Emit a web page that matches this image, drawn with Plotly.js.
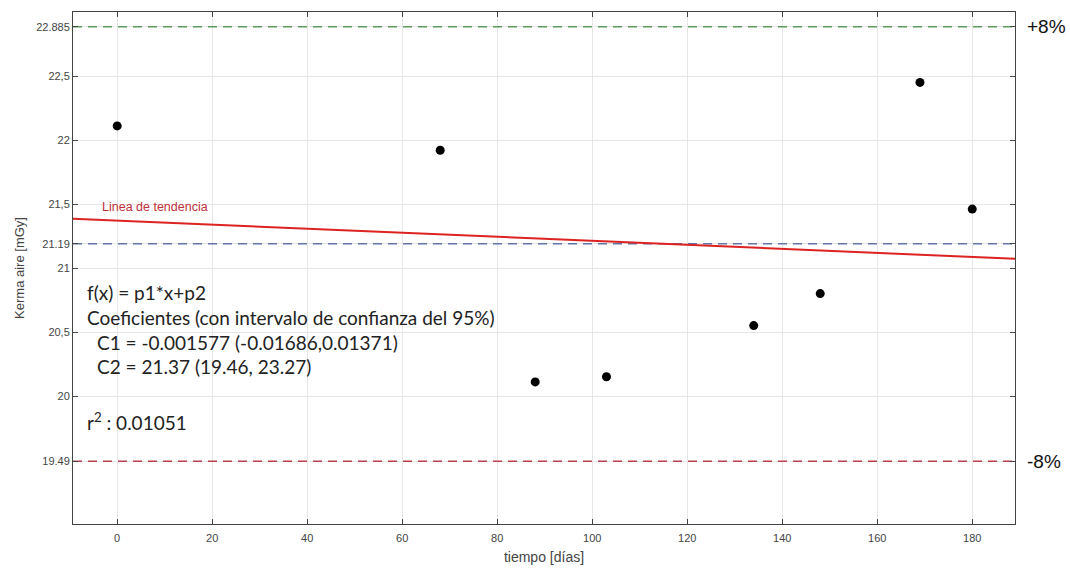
<!DOCTYPE html>
<html>
<head>
<meta charset="utf-8">
<script src="https://cdn.plot.ly/plotly-3.0.1.min.js"></script>
<style>html,body{margin:0;padding:0;background:#fff;}#chart{width:1070px;height:569px;}</style>
</head>
<body>
<div id="chart"></div>
<script>
// Measured points
const dias = [0, 68, 88, 103, 134, 148, 169, 180];
const kerma = [22.11, 21.92, 20.11, 20.15, 20.55, 20.80, 22.45, 21.46];

// Trend line (endpoints at plot edges)
const trendX = [-9.3, 189];
const trendY = [21.385, 21.072];

// Reference levels
const refX = [-9.3, 189];
const upperLimit = 22.885;
const nominal = 21.19;
const lowerLimit = 19.49;

// Axis ticks
const xTicks = [0, 20, 40, 60, 80, 100, 120, 140, 160, 180];
const yTickVals = [19.49, 20, 20.5, 21, 21.19, 21.5, 22, 22.5, 22.885];
const yTickText = ['19.49', '20', '20,5', '21', '21.19', '21,5', '22', '22,5', '22.885'];

// Fit text
const fitLines = [
  'f(x) = p1*x+p2',
  'Coeficientes (con intervalo de confianza del 95%)',
  'C1 = -0.001577 (-0.01686,0.01371)',
  'C2 = 21.37 (19.46, 23.27)'
];
const r2Text = 'r<sup>2</sup> : 0.01051';

const traces = [
  {x: refX, y: [upperLimit, upperLimit], mode: 'lines', line: {color: '#5e9a5e', width: 1.5, dash: '9px,6px'}, hoverinfo: 'skip'},
  {x: refX, y: [nominal, nominal], mode: 'lines', line: {color: '#6374a8', width: 1.5, dash: '9px,6px'}, hoverinfo: 'skip'},
  {x: refX, y: [lowerLimit, lowerLimit], mode: 'lines', line: {color: '#b8404c', width: 1.5, dash: '9px,6px'}, hoverinfo: 'skip'},
  {x: trendX, y: trendY, mode: 'lines', line: {color: '#dd2222', width: 2}, hoverinfo: 'skip'},
  {x: dias, y: kerma, mode: 'markers', marker: {color: '#000', size: 9}}
];

const axisCommon = {
  showline: true, mirror: 'ticks', linecolor: '#444', linewidth: 1,
  ticks: 'inside', ticklen: 5, tickcolor: '#444',
  gridcolor: '#e6e6e6', zeroline: false,
  tickfont: {family: 'Liberation Sans, Arial, sans-serif', size: 11, color: '#444'}
};

const annFont = {family: 'Lato, Open Sans, sans-serif', size: 19, color: '#222'};
const sideFont = {family: 'Liberation Sans, Arial, sans-serif', size: 19, color: '#111'};

const layout = {
  width: 1070, height: 569,
  margin: {l: 73, r: 55, t: 12, b: 45},
  paper_bgcolor: '#fff', plot_bgcolor: '#fff',
  showlegend: false,
  xaxis: Object.assign({}, axisCommon, {
    range: [-9.3, 189], tickvals: xTicks, ticktext: xTicks.map(String),
    ticklabelstandoff: 4,
    title: {text: 'tiempo [días]', font: {family: 'Liberation Sans, Arial, sans-serif', size: 14, color: '#444'}, standoff: 8}
  }),
  yaxis: Object.assign({}, axisCommon, {
    range: [19.0, 23.0], tickvals: yTickVals, ticktext: yTickText,
    title: {text: 'Kerma aire [mGy]', font: {family: 'Liberation Sans, Arial, sans-serif', size: 13, color: '#444'}, standoff: 8}
  }),
  annotations: [
    {xref: 'paper', yref: 'y', x: 1.0106, y: upperLimit, xanchor: 'left', yanchor: 'middle', text: '+8%', showarrow: false, font: sideFont},
    {xref: 'paper', yref: 'y', x: 1.0106, y: lowerLimit, xanchor: 'left', yanchor: 'middle', text: '-8%', showarrow: false, font: sideFont},
    {xref: 'x', yref: 'y', x: -3.6, y: 21.477, xanchor: 'left', yanchor: 'middle', text: 'Linea de tendencia', showarrow: false, font: {family: 'Liberation Sans, Arial, sans-serif', size: 12.5, color: '#c0303a'}},
    {xref: 'x', yref: 'y', x: -6.8, y: 20.81, xanchor: 'left', yanchor: 'middle', text: fitLines[0], showarrow: false, font: annFont},
    {xref: 'x', yref: 'y', x: -6.8, y: 20.61, xanchor: 'left', yanchor: 'middle', text: fitLines[1], showarrow: false, font: annFont},
    {xref: 'x', yref: 'y', x: -4.6, y: 20.42, xanchor: 'left', yanchor: 'middle', text: fitLines[2], showarrow: false, font: annFont},
    {xref: 'x', yref: 'y', x: -4.6, y: 20.23, xanchor: 'left', yanchor: 'middle', text: fitLines[3], showarrow: false, font: annFont},
    {xref: 'x', yref: 'y', x: -6.8, y: 19.80, xanchor: 'left', yanchor: 'middle', text: r2Text, showarrow: false, font: annFont}
  ]
};

Plotly.newPlot('chart', traces, layout, {staticPlot: true, displayModeBar: false});
</script>
</body>
</html>
